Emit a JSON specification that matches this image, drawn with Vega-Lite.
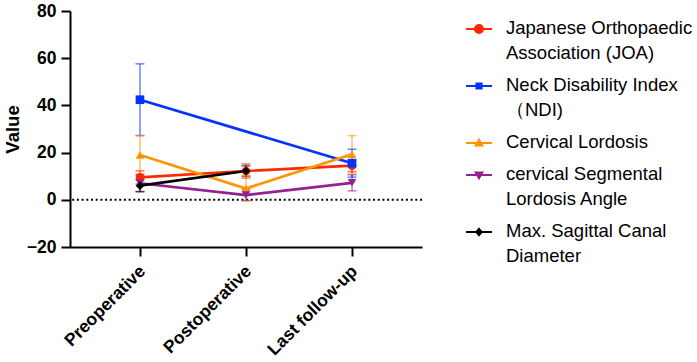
{
  "$schema": "https://vega.github.io/schema/vega-lite/v6.json",
  "width": 352,
  "height": 236,
  "autosize": {"type": "none"},
  "padding": {"left": 70, "top": 11, "right": 275, "bottom": 115},
  "background": "white",
  "config": {
    "view": {"stroke": null},
    "font": "Liberation Sans",
    "axis": {
      "domainColor": "black",
      "domainWidth": 2,
      "tickColor": "black",
      "tickWidth": 2,
      "tickSize": 9,
      "grid": false,
      "labelFont": "Liberation Sans",
      "labelFontWeight": "bold",
      "labelColor": "black",
      "titleFont": "Liberation Sans",
      "titleFontWeight": "bold",
      "titleColor": "black"
    }
  },
  "datasets": {
    "stats": [
      {"series": "Japanese Orthopaedic Association (JOA)", "time": "Preoperative", "value": 9.5, "lo": 6.7, "hi": 12.3},
      {"series": "Japanese Orthopaedic Association (JOA)", "time": "Postoperative", "value": 12.2, "lo": 9.2, "hi": 15.2},
      {"series": "Japanese Orthopaedic Association (JOA)", "time": "Last follow-up", "value": 14.5, "lo": 12.0, "hi": 17.0},
      {"series": "Neck Disability Index（NDI)", "time": "Preoperative", "value": 42.4, "lo": 27.2, "hi": 57.6},
      {"series": "Neck Disability Index（NDI)", "time": "Last follow-up", "value": 15.5, "lo": 9.6, "hi": 21.4},
      {"series": "Cervical Lordosis", "time": "Preoperative", "value": 19.0, "lo": 10.8, "hi": 27.2},
      {"series": "Cervical Lordosis", "time": "Postoperative", "value": 4.8, "lo": -0.5, "hi": 10.1},
      {"series": "Cervical Lordosis", "time": "Last follow-up", "value": 19.3, "lo": 11.4, "hi": 27.2},
      {"series": "cervical Segmental Lordosis Angle", "time": "Preoperative", "value": 7.0, "lo": 3.4, "hi": 10.6},
      {"series": "cervical Segmental Lordosis Angle", "time": "Postoperative", "value": 2.0, "lo": -0.3, "hi": 4.3},
      {"series": "cervical Segmental Lordosis Angle", "time": "Last follow-up", "value": 7.2, "lo": 3.8, "hi": 10.6},
      {"series": "Max. Sagittal Canal Diameter", "time": "Preoperative", "value": 6.0, "lo": 3.5, "hi": 8.5},
      {"series": "Max. Sagittal Canal Diameter", "time": "Postoperative", "value": 12.2, "lo": 10.0, "hi": 14.4}
    ]
  },
  "layer": [
    {
      "data": {"values": [{"ref": 0}]},
      "mark": {"type": "rule", "color": "black", "strokeWidth": 2, "strokeDash": [2, 2.7]},
      "encoding": {
        "y": {"field": "ref", "type": "quantitative", "scale": {"domain": [-20, 80], "nice": false, "zero": false}}
      }
    },
    {
      "data": {"name": "stats"},
      "encoding": {
        "x": {
          "field": "time",
          "type": "ordinal",
          "sort": ["Preoperative", "Postoperative", "Last follow-up"],
          "scale": {"type": "point", "padding": 0.66, "domain": ["Preoperative", "Postoperative", "Last follow-up"]},
          "axis": {"title": null, "labelAngle": -45, "labelFontSize": 17.5, "labelPadding": 6, "labelAlign": "right", "labelBaseline": "top", "labelOffset": -4}
        },
        "color": {
          "field": "series",
          "type": "nominal",
          "sort": null,
          "scale": {
            "domain": ["Japanese Orthopaedic Association (JOA)", "Neck Disability Index（NDI)", "Cervical Lordosis", "cervical Segmental Lordosis Angle", "Max. Sagittal Canal Diameter"],
            "range": ["#FF2600", "#0433FF", "#FF9300", "#942193", "#000000"]
          },
          "legend": {
            "orient": "none",
            "legendX": 395,
            "legendY": 4,
            "title": null,
            "padding": 0,
            "labelFont": "Liberation Sans",
            "labelFontSize": 18.5,
            "labelColor": "black",
            "labelLimit": 400,
            "labelOffset": 13,
            "labelBaseline": "top",
            "rowPadding": 9,
            "symbolSize": 676,
            "symbolStrokeWidth": 2,
            "symbolOpacity": 1,
            "labelExpr": "datum.label == 'Japanese Orthopaedic Association (JOA)' ? ['Japanese Orthopaedic', 'Association (JOA)'] : datum.label == 'Neck Disability Index（NDI)' ? ['Neck Disability Index', '（NDI)'] : datum.label == 'cervical Segmental Lordosis Angle' ? ['cervical Segmental', 'Lordosis Angle'] : datum.label == 'Max. Sagittal Canal Diameter' ? ['Max. Sagittal Canal', 'Diameter'] : datum.label",
            "encoding": {
              "labels": {"lineHeight": {"value": 25}, "dy": {"value": -10}},
              "symbols": {
                "shape": {"value": {"expr": "datum.value == 'Japanese Orthopaedic Association (JOA)' ? 'M-1,0H1M0.31,0A0.31,0.31,0,1,1,-0.31,0A0.31,0.31,0,1,1,0.31,0Z' : datum.value == 'Neck Disability Index（NDI)' ? 'M-1,0H1M-0.2,-0.2H0.2V0.2H-0.2Z' : datum.value == 'Cervical Lordosis' ? 'M-1,0H1M0,-0.25L0.26,0.2L-0.26,0.2Z' : datum.value == 'cervical Segmental Lordosis Angle' ? 'M-1,0H1M0,0.25L0.26,-0.2L-0.26,-0.2Z' : 'M-1,0H1M0,-0.24L0.2,0L0,0.24L-0.2,0Z'"}},
                "fill": {"value": {"expr": "scale('color', datum.value)"}},
                "stroke": {"value": {"expr": "scale('color', datum.value)"}},
                "strokeWidth": {"value": 2}
              }
            }
          }
        }
      },
      "layer": [
        {
          "mark": {"type": "rule", "strokeWidth": 1.5, "opacity": 0.6},
          "encoding": {
            "y": {"field": "lo", "type": "quantitative", "scale": {"domain": [-20, 80], "nice": false, "zero": false},
                  "axis": {"values": [-20, 0, 20, 40, 60, 80], "labelFontSize": 17.5, "labelPadding": 5, "title": "Value", "titleFontSize": 18.5, "titlePadding": 4}},
            "y2": {"field": "hi"}
          }
        },
        {
          "mark": {"type": "tick", "size": 9, "thickness": 1.5, "opacity": 0.6},
          "encoding": {"y": {"field": "lo", "type": "quantitative"}}
        },
        {
          "mark": {"type": "tick", "size": 9, "thickness": 1.5, "opacity": 0.6},
          "encoding": {"y": {"field": "hi", "type": "quantitative"}}
        },
        {
          "mark": {"type": "line", "strokeWidth": 2.7},
          "encoding": {"y": {"field": "value", "type": "quantitative"}}
        },
        {
          "mark": {"type": "point", "filled": true, "opacity": 1, "size": 75},
          "encoding": {
            "y": {"field": "value", "type": "quantitative"},
            "shape": {
              "condition": [
                {"test": "datum.series == 'Neck Disability Index（NDI)'", "value": "square"},
                {"test": "datum.series == 'Cervical Lordosis'", "value": "triangle-up"},
                {"test": "datum.series == 'cervical Segmental Lordosis Angle'", "value": "triangle-down"},
                {"test": "datum.series == 'Max. Sagittal Canal Diameter'", "value": "diamond"}
              ],
              "value": "circle"
            }
          }
        }
      ]
    }
  ]
}
